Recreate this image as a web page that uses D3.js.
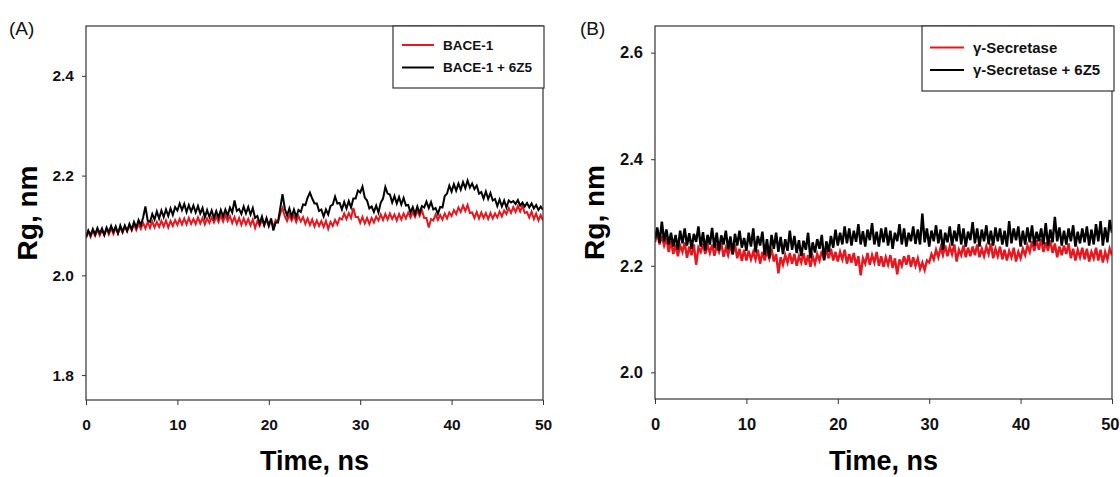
<!DOCTYPE html>
<html><head><meta charset="utf-8">
<script src="https://cdn.jsdelivr.net/npm/d3@7"></script>
<style>
body{margin:0;background:#fff}
svg{display:block}
text{font-family:"Liberation Sans",Arial,Helvetica,sans-serif}
</style>
</head><body>
<svg id="chart" width="1120" height="477"></svg>
<script>
// ---------------- DATA ----------------
const timeNs = [0,0.25,0.5,0.75,1,1.25,1.5,1.75,2,2.25,2.5,2.75,3,3.25,3.5,3.75,4,4.25,4.5,4.75,5,5.25,5.5,5.75,6,6.25,6.5,6.75,7,7.25,7.5,7.75,8,8.25,8.5,8.75,9,9.25,9.5,9.75,10,10.25,10.5,10.75,11,11.25,11.5,11.75,12,12.25,12.5,12.75,13,13.25,13.5,13.75,14,14.25,14.5,14.75,15,15.25,15.5,15.75,16,16.25,16.5,16.75,17,17.25,17.5,17.75,18,18.25,18.5,18.75,19,19.25,19.5,19.75,20,20.25,20.5,20.75,21,21.25,21.5,21.75,22,22.25,22.5,22.75,23,23.25,23.5,23.75,24,24.25,24.5,24.75,25,25.25,25.5,25.75,26,26.25,26.5,26.75,27,27.25,27.5,27.75,28,28.25,28.5,28.75,29,29.25,29.5,29.75,30,30.25,30.5,30.75,31,31.25,31.5,31.75,32,32.25,32.5,32.75,33,33.25,33.5,33.75,34,34.25,34.5,34.75,35,35.25,35.5,35.75,36,36.25,36.5,36.75,37,37.25,37.5,37.75,38,38.25,38.5,38.75,39,39.25,39.5,39.75,40,40.25,40.5,40.75,41,41.25,41.5,41.75,42,42.25,42.5,42.75,43,43.25,43.5,43.75,44,44.25,44.5,44.75,45,45.25,45.5,45.75,46,46.25,46.5,46.75,47,47.25,47.5,47.75,48,48.25,48.5,48.75,49,49.25,49.5,49.75,50];

const xTickValues = [0, 10, 20, 30, 40, 50];
const yTicksA = [1.8, 2.0, 2.2, 2.4];
const yTicksB = [2.0, 2.2, 2.4, 2.6];

const labelsA = ["BACE-1", "BACE-1 + 6Z5"];
const labelsB = ["\u03B3-Secretase", "\u03B3-Secretase + 6Z5"];

// Rg (nm), panel A
const bace1 = [
2.075,2.088,2.077,2.089, 2.079,2.091,2.080,2.090, 2.081,2.093,2.082,2.094, 2.083,2.095,2.084,2.096,
2.086,2.098,2.088,2.100, 2.090,2.102,2.091,2.103, 2.093,2.105,2.094,2.107, 2.095,2.108,2.096,2.107,
2.097,2.109,2.098,2.110, 2.096,2.109,2.099,2.111, 2.101,2.113,2.102,2.114, 2.102,2.115,2.103,2.113,
2.103,2.116,2.104,2.115, 2.102,2.114,2.105,2.116, 2.106,2.118,2.107,2.120, 2.108,2.121,2.109,2.119,
2.105,2.117,2.103,2.115, 2.101,2.114,2.102,2.113, 2.100,2.112,2.095,2.109, 2.099,2.111,2.100,2.112,
2.098,2.110,2.097,2.111, 2.107,2.123,2.135,2.118, 2.109,2.121,2.110,2.120, 2.107,2.119,2.108,2.117,
2.103,2.114,2.101,2.112, 2.098,2.110,2.099,2.109, 2.097,2.109,2.093,2.107, 2.099,2.111,2.102,2.115,
2.112,2.124,2.113,2.125, 2.115,2.135,2.117,2.117, 2.105,2.117,2.104,2.115, 2.103,2.115,2.106,2.118,
2.110,2.122,2.111,2.123, 2.112,2.124,2.113,2.122, 2.110,2.123,2.112,2.124, 2.114,2.126,2.116,2.127,
2.117,2.129,2.119,2.131, 2.115,2.115,2.096,2.113, 2.110,2.122,2.111,2.121, 2.112,2.124,2.114,2.126,
2.119,2.131,2.123,2.136, 2.127,2.140,2.129,2.141, 2.125,2.126,2.115,2.127, 2.114,2.126,2.115,2.125,
2.113,2.125,2.114,2.124, 2.116,2.128,2.118,2.130, 2.123,2.135,2.125,2.137, 2.127,2.139,2.128,2.140,
2.125,2.127,2.116,2.128, 2.113,2.124,2.110,2.121, 2.110];

const bace1_6z5 = [
2.076,2.090,2.080,2.093, 2.082,2.095,2.084,2.094, 2.081,2.096,2.086,2.099, 2.087,2.098,2.084,2.100,
2.087,2.100,2.089,2.103, 2.092,2.107,2.096,2.111, 2.101,2.116,2.138,2.110, 2.107,2.123,2.112,2.128,
2.114,2.130,2.117,2.132, 2.119,2.134,2.121,2.137, 2.130,2.144,2.131,2.143, 2.127,2.141,2.128,2.140,
2.126,2.139,2.124,2.135, 2.116,2.131,2.117,2.130, 2.115,2.129,2.116,2.131, 2.118,2.132,2.120,2.136,
2.126,2.150,2.129,2.133, 2.123,2.138,2.124,2.137, 2.122,2.135,2.115,2.119, 2.104,2.118,2.101,2.115,
2.100,2.114,2.090,2.106, 2.106,2.134,2.163,2.134, 2.120,2.134,2.118,2.132, 2.117,2.131,2.127,2.142,
2.141,2.156,2.166,2.154, 2.144,2.144,2.129,2.132, 2.118,2.132,2.122,2.139, 2.142,2.158,2.144,2.145,
2.132,2.147,2.134,2.149, 2.136,2.154,2.154,2.170, 2.166,2.178,2.156,2.150, 2.134,2.138,2.127,2.140,
2.126,2.146,2.154,2.177, 2.164,2.162,2.146,2.159, 2.144,2.157,2.142,2.155, 2.140,2.141,2.126,2.137,
2.123,2.138,2.125,2.139, 2.136,2.148,2.135,2.147, 2.132,2.135,2.123,2.137, 2.136,2.159,2.164,2.180,
2.168,2.183,2.170,2.184, 2.172,2.187,2.175,2.190, 2.176,2.184,2.173,2.180, 2.164,2.167,2.154,2.168,
2.153,2.165,2.150,2.153, 2.139,2.152,2.138,2.150, 2.136,2.150,2.146,2.149, 2.143,2.151,2.140,2.146,
2.138,2.145,2.136,2.144, 2.134,2.141,2.131,2.138, 2.131];

// Rg (nm), panel B
const gammaSecretase = [
2.244,2.262,2.240,2.256, 2.238,2.252,2.226,2.246, 2.222,2.240,2.218,2.238, 2.226,2.244,2.215,2.236,
2.220,2.240,2.202,2.234, 2.226,2.242,2.222,2.239, 2.224,2.240,2.219,2.236, 2.226,2.243,2.217,2.234,
2.220,2.238,2.221,2.240, 2.214,2.232,2.209,2.230, 2.210,2.228,2.212,2.226, 2.212,2.230,2.204,2.226,
2.210,2.228,2.214,2.232, 2.208,2.222,2.186,2.216, 2.202,2.220,2.206,2.224, 2.204,2.222,2.200,2.218,
2.206,2.224,2.202,2.220, 2.198,2.218,2.204,2.222, 2.210,2.228,2.212,2.230, 2.214,2.232,2.210,2.226,
2.208,2.226,2.212,2.230, 2.204,2.222,2.206,2.224, 2.200,2.218,2.182,2.214, 2.204,2.224,2.202,2.220,
2.206,2.226,2.200,2.218, 2.198,2.216,2.202,2.220, 2.196,2.214,2.184,2.212, 2.200,2.218,2.202,2.220,
2.198,2.216,2.200,2.214, 2.194,2.206,2.192,2.210, 2.206,2.222,2.212,2.230, 2.216,2.234,2.220,2.238,
2.218,2.236,2.222,2.240, 2.208,2.230,2.220,2.238, 2.216,2.234,2.218,2.236, 2.220,2.240,2.216,2.232,
2.218,2.236,2.222,2.242, 2.214,2.232,2.218,2.236, 2.212,2.230,2.210,2.228, 2.216,2.234,2.208,2.226,
2.214,2.232,2.220,2.238, 2.226,2.246,2.228,2.248, 2.230,2.250,2.226,2.244, 2.228,2.248,2.224,2.242,
2.216,2.236,2.220,2.238, 2.222,2.242,2.214,2.232, 2.210,2.230,2.216,2.234, 2.212,2.232,2.208,2.226,
2.214,2.234,2.210,2.230, 2.206,2.226,2.212,2.232, 2.220];

const gammaSecretase_6z5 = [
2.250,2.272,2.243,2.283, 2.246,2.268,2.240,2.262, 2.236,2.258,2.230,2.266, 2.242,2.270,2.238,2.261,
2.232,2.260,2.245,2.274, 2.236,2.263,2.229,2.258, 2.240,2.271,2.233,2.262, 2.228,2.257,2.240,2.266,
2.231,2.255,2.222,2.260, 2.238,2.266,2.234,2.252, 2.228,2.262,2.236,2.270, 2.225,2.256,2.238,2.264,
2.220,2.250,2.214,2.258, 2.232,2.262,2.226,2.254, 2.222,2.250,2.228,2.266, 2.230,2.256,2.224,2.248,
2.218,2.247,2.230,2.262, 2.214,2.244,2.225,2.250, 2.232,2.258,2.210,2.246, 2.226,2.256,2.234,2.268,
2.238,2.262,2.240,2.274, 2.242,2.270,2.238,2.266, 2.245,2.278,2.240,2.265, 2.236,2.268,2.248,2.280,
2.240,2.264,2.236,2.270, 2.244,2.272,2.238,2.266, 2.232,2.262,2.246,2.278, 2.240,2.270,2.236,2.262,
2.246,2.274,2.241,2.268, 2.240,2.298,2.244,2.270, 2.236,2.266,2.246,2.276, 2.242,2.268,2.230,2.262,
2.244,2.274,2.238,2.266, 2.246,2.278,2.240,2.270, 2.236,2.264,2.248,2.282, 2.242,2.270,2.236,2.268,
2.246,2.276,2.240,2.266, 2.238,2.272,2.246,2.270, 2.240,2.266,2.236,2.284, 2.242,2.270,2.248,2.274,
2.236,2.266,2.240,2.272, 2.244,2.276,2.238,2.264, 2.246,2.270,2.240,2.280, 2.238,2.268,2.244,2.292,
2.246,2.272,2.238,2.266, 2.240,2.270,2.246,2.276, 2.236,2.264,2.242,2.270, 2.244,2.274,2.238,2.268,
2.240,2.278,2.246,2.284, 2.238,2.272,2.244,2.286, 2.262];

// ---------------- DRAWING ----------------
const RED = "#e8161e", BLACK = "#000";
const svg = d3.select("#chart");

const panels = [
  { tag: "(A)", tagX: 9, x0: 86, x1: 543, yTop: 26, yBottom: 400, yDomain: [1.75, 2.5], yTicks: yTicksA,
    tickFont: 15.5, titleX: 37, lineW: 2.0, series: [bace1, bace1_6z5], labels: labelsA,
    legend: { x: 393, y: 26, w: 151, h: 62, fs: 13.5, lx0: 402, lx1: 434, tx: 443, rows: [45, 67.5] } },
  { tag: "(B)", tagX: 580, x0: 655, x1: 1112, yTop: 26, yBottom: 399, yDomain: [1.95, 2.65], yTicks: yTicksB,
    tickFont: 16.5, titleX: 604, lineW: 2.4, series: [gammaSecretase, gammaSecretase_6z5], labels: labelsB,
    legend: { x: 922, y: 26, w: 192, h: 65, fs: 15, lx0: 930, lx1: 964, tx: 973, rows: [47.5, 70] } }
];

panels.forEach((p, pi) => {
  const x = d3.scaleLinear().domain([0, 50]).range([p.x0, p.x1]);
  const y = d3.scaleLinear().domain(p.yDomain).range([p.yBottom, p.yTop]);
  const g = svg.append("g");

  const clipId = "clip" + pi;
  svg.append("clipPath").attr("id", clipId).append("rect")
    .attr("x", p.x0).attr("y", p.yTop).attr("width", p.x1 - p.x0).attr("height", p.yBottom - p.yTop);

  const line = d3.line().x((d, i) => x(timeNs[i])).y(d => y(d));
  const colors = [RED, BLACK];
  p.series.forEach((s, si) => {
    g.append("path").datum(s).attr("d", line).attr("fill", "none")
      .attr("stroke", colors[si]).attr("stroke-width", p.lineW).attr("stroke-linejoin", "miter")
      .attr("clip-path", `url(#${clipId})`);
  });

  // frame
  g.append("rect").attr("x", p.x0).attr("y", p.yTop).attr("width", p.x1 - p.x0).attr("height", p.yBottom - p.yTop)
    .attr("fill", "none").attr("stroke", "#333").attr("stroke-width", 1.2);

  // x axis
  const xa = g.append("g").attr("transform", `translate(0,${p.yBottom})`)
    .call(d3.axisBottom(x).tickValues(xTickValues).tickSize(5).tickSizeOuter(0).tickPadding(14).tickFormat(d3.format("d")));
  xa.select(".domain").remove();
  xa.selectAll("line").attr("stroke", "#333");
  xa.selectAll("text").attr("font-size", p.tickFont).attr("font-weight", "bold").attr("fill", "#111")
    .attr("font-family", '"Liberation Sans",Arial,sans-serif');
  if (pi === 1) {
    // keep the last label inside the page (reference shows it flush with the right edge)
    xa.selectAll("text").filter(d => d === 50).attr("text-anchor", "end").attr("dx", 7);
  }

  // y axis
  const ya = g.append("g").attr("transform", `translate(${p.x0},0)`)
    .call(d3.axisLeft(y).tickValues(p.yTicks).tickSize(4).tickSizeOuter(0).tickPadding(8).tickFormat(d3.format(".1f")));
  ya.select(".domain").remove();
  ya.selectAll("line").attr("stroke", "#333");
  ya.selectAll("text").attr("font-size", p.tickFont).attr("font-weight", "bold").attr("fill", "#111")
    .attr("font-family", '"Liberation Sans",Arial,sans-serif');

  // axis titles
  g.append("text").attr("x", (p.x0 + p.x1) / 2).attr("y", 470).attr("text-anchor", "middle")
    .attr("font-size", 27).attr("font-weight", "bold").attr("fill", "#000").text("Time, ns");
  g.append("text").attr("transform", `translate(${p.titleX},${(p.yTop + p.yBottom) / 2}) rotate(-90)`)
    .attr("text-anchor", "middle").attr("font-size", 28).attr("font-weight", "bold").attr("fill", "#000").text("Rg, nm");

  // panel tag
  g.append("text").attr("x", p.tagX).attr("y", 35).attr("font-size", 19).attr("fill", "#111").text(p.tag);

  // legend
  const L = p.legend;
  g.append("rect").attr("x", L.x).attr("y", L.y).attr("width", L.w).attr("height", L.h)
    .attr("fill", "#fff").attr("stroke", "#333").attr("stroke-width", 1.2);
  p.labels.forEach((lab, li) => {
    g.append("line").attr("x1", L.lx0).attr("x2", L.lx1).attr("y1", L.rows[li]).attr("y2", L.rows[li])
      .attr("stroke", colors[li]).attr("stroke-width", 2);
    g.append("text").attr("x", L.tx).attr("y", L.rows[li] + L.fs * 0.36).attr("font-size", L.fs)
      .attr("font-weight", "bold").attr("fill", "#111").text(lab);
  });
});
</script>
</body></html>
